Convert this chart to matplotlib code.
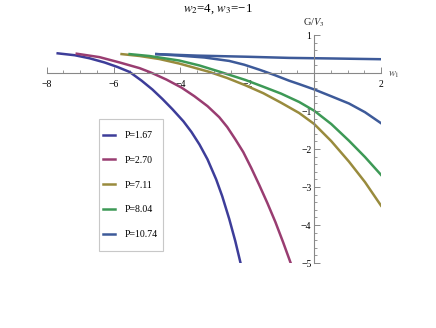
import numpy as np
import matplotlib
matplotlib.use('Agg')
import matplotlib.pyplot as plt
from matplotlib.patches import Rectangle

plt.rcParams['font.family'] = ['Liberation Serif', 'DejaVu Serif']
plt.rcParams['mathtext.fontset'] = 'stix'

### Curves: G/V3 against w1 for each P ###
labels = ['P=1.67', 'P=2.70', 'P=7.11', 'P=8.04', 'P=10.74']
colors = ['#3d3d99', '#993d71', '#998b3d', '#3d9956', '#3d5a99']

w_p167 = [-7.67, -7.16, -6.72, -6.27, -5.88, -5.52, -5.16, -4.84, -4.54, -4.24, -3.91, -3.67,
          -3.43, -3.19, -2.93, -2.75, -2.54, -2.36, -2.21, -2.15]
g_p167 = [0.52, 0.47, 0.39, 0.28, 0.16, 0.03, -0.20, -0.43, -0.68, -0.95, -1.27, -1.55,
          -1.88, -2.27, -2.80, -3.24, -3.84, -4.42, -4.97, -5.20]

w_p270 = [-7.10, -6.42, -5.82, -5.22, -4.87, -4.42, -3.97, -3.58, -3.19, -2.84, -2.60, -2.36,
          -2.12, -1.88, -1.64, -1.40, -1.16, -0.93, -0.69, -0.63]
g_p270 = [0.51, 0.42, 0.28, 0.13, 0.01, -0.17, -0.38, -0.61, -0.87, -1.16, -1.42, -1.74,
          -2.08, -2.50, -2.95, -3.42, -3.92, -4.45, -5.03, -5.18]

w_p711 = [-5.76, -5.22, -4.63, -4.03, -3.58, -3.13, -2.60, -2.06, -1.52, -0.99, -0.45, 0.0,
          0.51, 1.04, 1.52, 2.0]
g_p711 = [0.50, 0.45, 0.37, 0.25, 0.14, 0.03, -0.13, -0.32, -0.53, -0.78, -1.05, -1.34,
          -1.79, -2.33, -2.87, -3.49]

w_p804 = [-5.52, -4.93, -4.48, -4.03, -3.43, -2.84, -2.06, -1.52, -0.99, -0.45, 0.0, 0.51,
          1.04, 1.52, 2.0]
g_p804 = [0.50, 0.45, 0.39, 0.33, 0.20, 0.04, -0.18, -0.36, -0.54, -0.76, -0.99, -1.34,
          -1.78, -2.21, -2.68]

# P=10.74 has two branches: one falling, one almost flat
w_p1074 = [-4.72, -4.03, -3.28, -2.54, -2.09, -1.64, -1.19, -0.75, -0.45, 0.0, 0.51, 1.04,
           1.52, 2.0]
g_p1074 = [0.50, 0.46, 0.41, 0.32, 0.22, 0.09, -0.05, -0.20, -0.29, -0.43, -0.61, -0.80,
           -1.03, -1.32]
w_p1074_flat = [-4.72, -3.5, -2.0, -0.75, 0.5, 2.0]
g_p1074_flat = [0.50, 0.46, 0.43, 0.40, 0.385, 0.365]

curves = [(w_p167, g_p167), (w_p270, g_p270), (w_p711, g_p711), (w_p804, g_p804), (w_p1074, g_p1074)]

fig = plt.figure(figsize=(4.36, 3.28), dpi=100)
ax = fig.add_axes([0.107, 0.198, 0.767, 0.695])

for (w, g), c, lab in zip(curves, colors, labels):
    ax.plot(w, g, color=c, lw=1.8, label=lab, solid_joinstyle='round')
ax.plot(w_p1074_flat, g_p1074_flat, color=colors[4], lw=1.8)

ax.set_xlim(-8, 2)
ax.set_ylim(-5, 1)

# Mathematica-style axes through the origin
for s in ['top', 'right']:
    ax.spines[s].set_visible(False)
ax.spines['left'].set_position(('data', 0))
ax.spines['bottom'].set_position(('data', 0))
for s in ['left', 'bottom']:
    ax.spines[s].set_color('#888888')
    ax.spines[s].set_linewidth(0.8)

ax.set_xticks([-8, -6, -4, -2, 2])
ax.set_xticks(np.arange(-8, 2.01, 0.5), minor=True)
ax.set_yticks([-5, -4, -3, -2, -1, 1])
ax.set_yticks(np.arange(-5, 1.01, 0.2), minor=True)
ax.set_xticklabels(['\u22128', '\u22126', '\u22124', '\u22122', '2'])
ax.set_yticklabels(['\u22125', '\u22124', '\u22123', '\u22122', '\u22121', '1'])
ax.tick_params(which='both', direction='in', color='#888888', labelsize=7)
ax.tick_params(which='major', length=4, width=0.7)
ax.tick_params(which='minor', length=2, width=0.6)
ax.tick_params(axis='x', pad=5)
ax.tick_params(axis='y', pad=2)

ax.text(2.2, -0.05, '$w_1$', fontsize=7.5, color='#444444', va='center', ha='left')
ax.text(0, 1.15, 'G/$V_3$', fontsize=7.5, color='#222222', ha='center', va='bottom')

fig.text(0.5, 0.972, '$w_2$=4, $w_3$=\u22121', ha='center', va='center', fontsize=9.3)

# legend box drawn separately so the padding matches
box = Rectangle((99 / 436, 1 - 251 / 328), 64 / 436, 132 / 328, transform=fig.transFigure,
                facecolor='white', edgecolor='#c8c8c8', lw=0.8, zorder=4, clip_on=False)
ax.add_patch(box)
leg = ax.legend(loc='upper left', bbox_to_anchor=(103 / 436, 1 - 131 / 328),
                bbox_transform=fig.transFigure, fontsize=7, frameon=False,
                handlelength=1.25, handletextpad=1.0, labelspacing=1.62,
                borderpad=0, borderaxespad=0)

plt.savefig('out.png', dpi=100)
